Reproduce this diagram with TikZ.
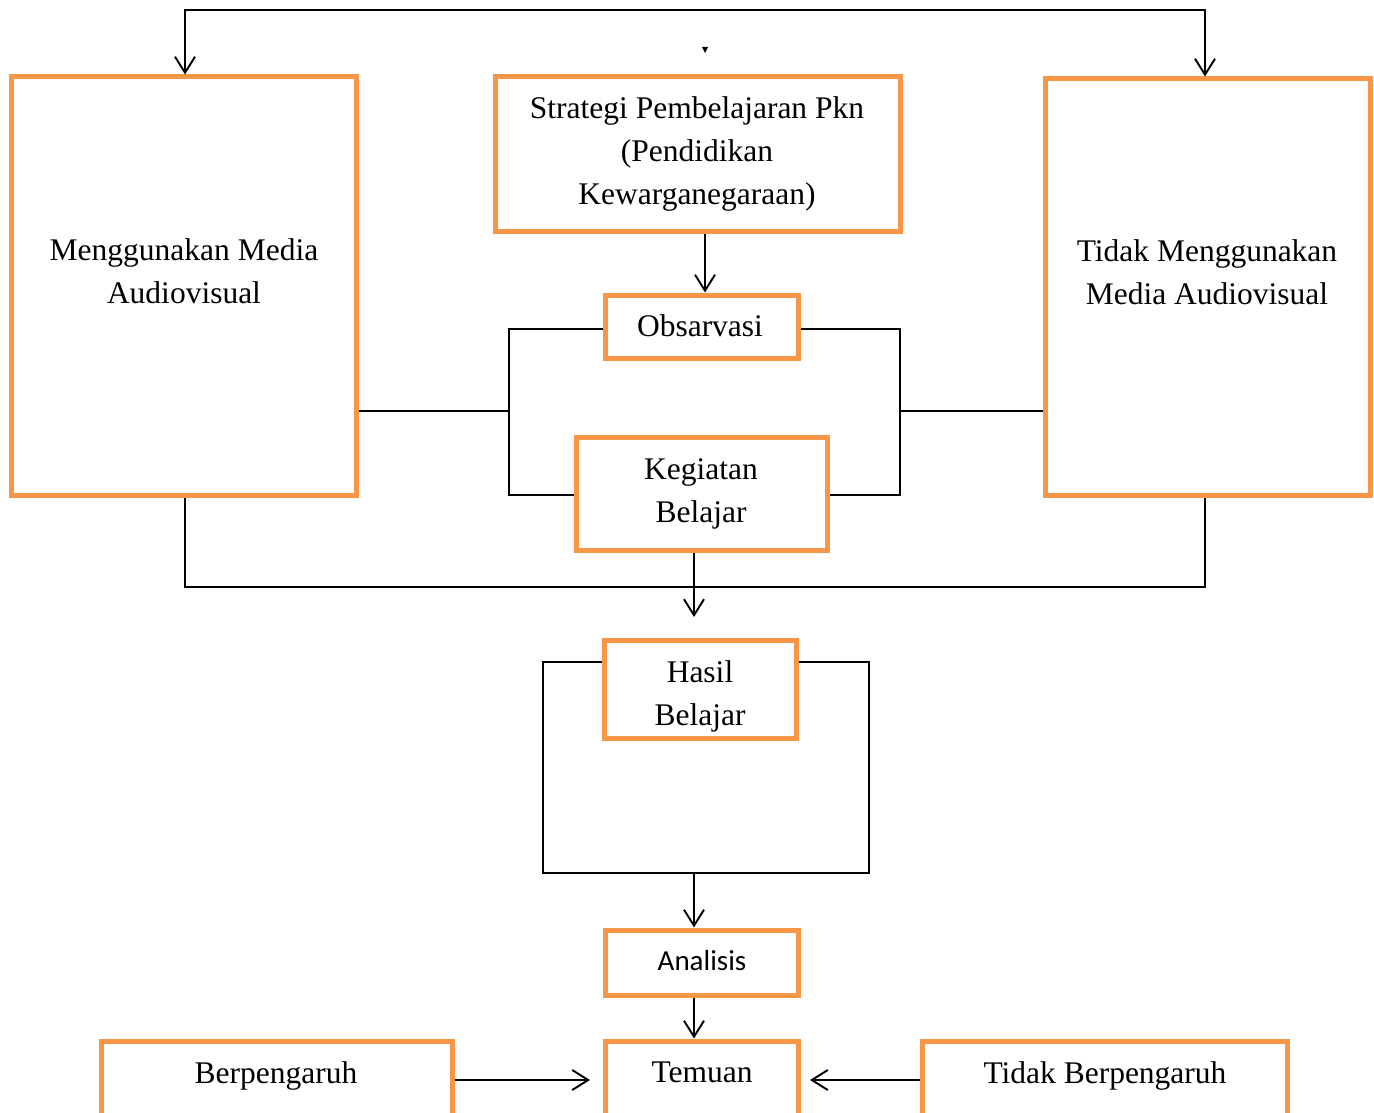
\documentclass[tikz,border=0pt]{standalone}
\usepackage{fontspec}
\setmainfont{Liberation Serif}
\newfontfamily\calfont{Carlito}
\usetikzlibrary{arrows.meta}
\definecolor{orr}{HTML}{F79646}
\begin{document}
\begin{tikzpicture}[x=1pt,y=-1pt,
  box/.style={draw=orr,line width=5pt,inner sep=0pt},
  txt/.style={font=\fontsize{31.5}{43}\selectfont,align=center,inner sep=0pt},
  ln/.style={line width=1.9pt},
  arr/.style={ln,-{Straight Barb[length=16pt,width=20pt]}},
  darr/.style={ln,{Straight Barb[length=16pt,width=20pt]}-{Straight Barb[length=16pt,width=20pt]}}]
\clip (0,0) rectangle (1374,1113);
\fill[white] (0,0) rectangle (1374,1113);
% boxes
\node[box,minimum width=345pt,minimum height=418pt] (M) at (183.5,286) {};
\node[box,minimum width=405pt,minimum height=154pt] (S) at (697.5,154) {};
\node[box,minimum width=325pt,minimum height=416pt] (T) at (1207.5,287) {};
\node[box,minimum width=193pt,minimum height=63pt] (O) at (701.5,326.5) {};
\node[box,minimum width=251pt,minimum height=113pt] (K) at (701.5,493.5) {};
\node[box,minimum width=192pt,minimum height=98pt] (H) at (700,689) {};
\node[box,minimum width=193pt,minimum height=65pt] (A) at (701.5,962.5) {};
\node[box,minimum width=193pt,minimum height=99pt] (Tm) at (701.5,1090.5) {};
\node[box,minimum width=351pt,minimum height=99pt] (B) at (276.5,1090.5) {};
\node[box,minimum width=365pt,minimum height=99pt] (TB) at (1104.5,1090.5) {};
% texts
\node[txt] (Mt) at (184,271) {Menggunakan Media\\Audiovisual};
\node[txt] (St) at (697,153.5) {Strategi Pembelajaran Pkn\\(Pendidikan\\Kewarganegaraan)};
\node[txt] (Tt) at (1207,272) {Tidak Menggunakan\\Media Audiovisual};
\node[txt] (Ot) at (700,326) {Obsarvasi};
\node[txt] (Kt) at (701,494) {Kegiatan\\Belajar};
\node[txt] (Ht) at (700,696.5) {Hasil\\Belajar};
\node[txt,font=\calfont\fontsize{29}{35}\selectfont] (At) at (702,961) {Analisis};
\node[txt] (Tmt) at (702,1072) {Temuan};
\node[txt] (Bt) at (276,1076) {Berpengaruh};
\node[txt] (TBt) at (1105,1076) {Tidak Berpengaruh};
% helper coordinates
\coordinate (top) at (700,10);
\coordinate (cxl) at (185,0);
\coordinate (cxr) at (1205,0);
\coordinate (c705) at (705,0);
\coordinate (c694) at (694,0);
\coordinate (jl) at (509,411);
\coordinate (jr) at (900,411);
\coordinate (bot) at (694,587);
\coordinate (ht) at (694,617);
\coordinate (hy) at (0,662);
\coordinate (lb) at (543,873);
\coordinate (rb) at (869,873);
\coordinate (ay) at (0,1080);
\coordinate (ba) at (590,1080);
\coordinate (tba) at (810,1080);
% connectors
\draw[darr] (M.north -| cxl) -- (cxl |- top) -- (cxr |- top) -- (T.north -| cxr);
\draw[arr] (S.south -| c705) -- (O.north -| c705);
\draw[ln] (M.east |- jl) -- (jl);
\draw[ln] (O.west |- 0,329) -| (jl) |- (K.west |- 0,495);
\draw[ln] (O.east |- 0,329) -| (jr) |- (K.east |- 0,495);
\draw[ln] (jr) -- (T.west |- jr);
\draw[ln] (M.south -| cxl) |- (bot) -| (T.south -| cxr);
\draw[arr] (K.south -| c694) -- (ht);
\draw[ln] (H.west |- hy) -- (lb |- hy) -- (lb) -- (rb) -- (rb |- hy) -- (H.east |- hy);
\draw[arr] (lb -| c694) -- (A.north -| c694);
\draw[arr] (A.south -| c694) -- (Tm.north -| c694);
\draw[arr] (B.east |- ay) -- (ba);
\draw[arr] (TB.west |- ay) -- (tba);
% stray tiny mark
\fill (702,47) -- (708,47) -- (705,53) -- cycle;
\end{tikzpicture}
\end{document}
